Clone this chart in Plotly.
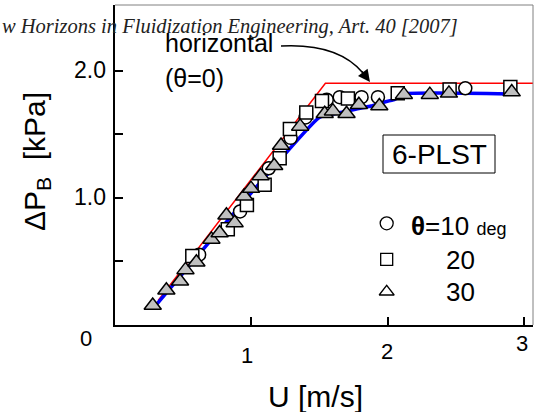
import plotly.graph_objects as go

# ---- data ----
u_circle = [0.62, 0.92, 1.13, 1.29, 1.40, 1.555, 1.65, 1.81, 1.93, 2.57]
p_circle = [0.55, 0.89, 1.23, 1.47, 1.63, 1.77, 1.79, 1.79, 1.79, 1.86]

u_square = [0.57, 0.83, 0.97, 1.10, 1.21, 1.285, 1.405, 1.52, 1.71, 2.075, 2.455, 2.90]
p_square = [0.54, 0.75, 0.94, 1.10, 1.31, 1.54, 1.67, 1.76, 1.78, 1.82, 1.85, 1.87]

u_tri = [0.28, 0.38, 0.48, 0.52, 0.60, 0.71, 0.77, 0.82, 0.88, 0.95, 1.00, 1.07,
         1.17, 1.22, 1.36, 1.54, 1.60, 1.70, 1.79, 1.94, 2.12, 2.31, 2.45, 2.91]
p_tri = [0.15, 0.27, 0.34, 0.43, 0.49, 0.67, 0.72, 0.86, 0.80, 1.01, 1.07, 1.17,
         1.25, 1.41, 1.56, 1.66, 1.68, 1.66, 1.73, 1.72, 1.81, 1.81, 1.82, 1.83]

u_red = [0.32, 1.545, 3.1]
p_red = [0.19, 1.90, 1.90]

u_blue = [0.31, 1.50, 1.61, 1.71, 1.79, 1.88, 1.95, 2.05, 2.12, 2.91]
p_blue = [0.16, 1.63, 1.66, 1.68, 1.70, 1.72, 1.746, 1.77, 1.815, 1.815]

x_ticks = [0, 1, 2, 3]
y_ticks = [1.0, 2.0]

# ---- geometry helpers (pixel -> paper) ----
W, H = 535, 412
L, R, T, B = 115, 533, 5, 325
def px(x):
    return (x - L) / (R - L)
def py(y):
    return (B - y) / (B - T)

FONT = "Liberation Sans"
fig = go.Figure()

fig.add_trace(go.Scatter(x=u_red, y=p_red, mode="lines",
                         line=dict(color="#ff0000", width=1.5), showlegend=False))
fig.add_trace(go.Scatter(x=u_blue, y=p_blue, mode="lines",
                         line=dict(color="#0000ff", width=3.5, shape="spline", smoothing=0.4),
                         showlegend=False))
fig.add_trace(go.Scatter(x=u_circle, y=p_circle, mode="markers",
                         marker=dict(symbol="circle", size=13, color="white",
                                     line=dict(color="black", width=1.5)), showlegend=False))
fig.add_trace(go.Scatter(x=u_square, y=p_square, mode="markers",
                         marker=dict(symbol="square", size=13, color="white",
                                     line=dict(color="black", width=1.5)), showlegend=False))
fig.add_trace(go.Scatter(x=u_tri, y=p_tri, mode="markers",
                         marker=dict(symbol="triangle-up", size=15, color="#c0c0c0",
                                     line=dict(color="black", width=1.5)), showlegend=False))

# hand-made legend symbols
leg_u = 1.994
fig.add_trace(go.Scatter(x=[leg_u], y=[0.797], mode="markers", cliponaxis=False,
                         marker=dict(symbol="circle-open", size=13, color="black",
                                     line=dict(width=1.3)), showlegend=False))
fig.add_trace(go.Scatter(x=[leg_u], y=[0.513], mode="markers", cliponaxis=False,
                         marker=dict(symbol="square-open", size=12, color="black",
                                     line=dict(width=1.3)), showlegend=False))
fig.add_trace(go.Scatter(x=[leg_u], y=[0.258], mode="markers", cliponaxis=False,
                         marker=dict(symbol="triangle-up-open", size=13, color="black",
                                     line=dict(width=1.3)), showlegend=False))

x0 = 114.5
ppu_x = 136.5
ppu_y = 127.0
y0 = 324.5
xr = [(L - x0) / ppu_x, (R - x0) / ppu_x]
yr = [(y0 - B) / ppu_y, (y0 - T) / ppu_y]

fig.update_xaxes(range=xr, showline=True, linecolor="black", linewidth=2,
                 ticks="inside", tickvals=x_ticks, ticklen=8, tickwidth=1.5,
                 tickcolor="black", showticklabels=False, showgrid=False,
                 zeroline=False, mirror=False)
fig.update_yaxes(range=yr, showline=True, linecolor="black", linewidth=2,
                 ticks="inside", tickvals=[0.5, 1.0, 1.5, 2.0], ticklen=8, tickwidth=1.5,
                 tickcolor="black", showticklabels=False, showgrid=False,
                 zeroline=False, mirror=False)

shapes = [
    dict(type="line", xref="paper", yref="paper", x0=0, x1=1, y0=1, y1=1,
         line=dict(color="#808080", width=1)),
    dict(type="line", xref="paper", yref="paper", x0=1, x1=1, y0=0, y1=1,
         line=dict(color="#808080", width=1)),
    dict(type="rect", xref="paper", yref="paper", x0=px(383), x1=px(495),
         y0=py(173), y1=py(135), line=dict(color="black", width=1)),
]
# curved arrow from "horizontal"
def dx(x):
    return (x - x0) / ppu_x
def dy(y):
    return (y0 - y) / ppu_y
shapes.append(dict(type="path", xref="x", yref="y",
                   path=f"M {dx(281)},{dy(46)} Q {dx(338)},{dy(43)} {dx(363)},{dy(73)}",
                   line=dict(color="black", width=1.5)))

ann = []
def text(x, y, s, size, xanchor="center", yanchor="middle", **kw):
    ann.append(dict(x=px(x), y=py(y), xref="paper", yref="paper", text=s,
                    showarrow=False, xanchor=xanchor, yanchor=yanchor,
                    font=dict(family=FONT, size=size, color="black"), **kw))

# tick labels (irregular placement as in original)
for v, (x, y) in zip(x_ticks, [(86, 338), (247, 355), (387, 351), (522, 343)]):
    text(x, y, str(v), 22)
for v, y in zip(y_ticks, [197, 70]):
    text(108, y, f"{v:.1f}", 23, xanchor="right")

text(315, 396, "U [m/s]", 30)
text(36, 162, "ΔP<sub>B</sub>  [kPa]", 30, textangle=-90)

text(163, 43, "horizontal", 25, xanchor="left")
text(163, 78, "(θ=0)", 25, xanchor="left")
text(439, 154, "6-PLST", 28)
text(409, 226, "<b>θ</b>=10 <span style='font-size:18px'>deg</span>", 26, xanchor="left")
text(444, 260, "20", 26, xanchor="left")
text(444, 292, "30", 26, xanchor="left")

ann.append(dict(x=px(0), y=py(27), xref="paper", yref="paper", xanchor="left",
                yanchor="middle", showarrow=False,
                text="<i>w Horizons in Fluidization Engineering, Art. 40 [2007]</i>",
                font=dict(family="Liberation Serif", size=20.5, color="#222222")))

ann.append(dict(x=dx(370), y=dy(82), xref="x", yref="y", ax=-9, ay=-12, text="",
                showarrow=True, arrowhead=2, arrowsize=1.6, arrowwidth=1.5,
                arrowcolor="black"))

fig.update_layout(width=W, height=H, margin=dict(l=L, r=W - R, t=T, b=H - B),
                  plot_bgcolor="white", paper_bgcolor="white",
                  shapes=shapes, annotations=ann, showlegend=False,
                  font=dict(family=FONT))
fig.write_html("out.html", config={"displayModeBar": False},
               post_script="document.body.style.margin='0';document.body.style.padding='0';")
